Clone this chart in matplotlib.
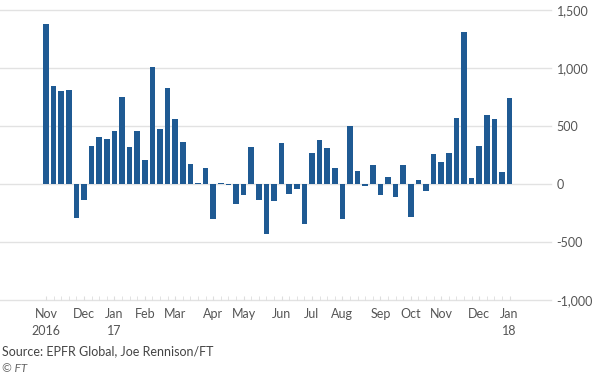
import matplotlib
matplotlib.use("Agg")
import matplotlib.pyplot as plt
import numpy as np
import pandas as pd

# Weekly flows, Nov 2016 - Jan 2018
weeks = pd.date_range("2016-11-02", periods=62, freq="7D")
flows = [1377, 848, 799, 813, -296, -138, 325, 402, 388, 457,
         747, 319, 460, 204, 1006, 470, 825, 557, 365, 170,
         12, 135, -305, 10, -5, -172, -95, 320, -140, -430,
         -145, 350, -86, -46, -345, 265, 380, 307, 135, -300,
         500, 112, -15, 161, -98, 63, -112, 164, -284, 32,
         -62, 256, 193, 266, 566, 1308, 55, 330, 595, 563,
         100, 744]
month_labels = ["Nov\n2016", "Dec", "Jan\n17", "Feb", "Mar", "Apr", "May", "Jun",
                "Jul", "Aug", "Sep", "Oct", "Nov", "Dec", "Jan\n18"]
y_ticks = [-1000, -500, 0, 500, 1000, 1500]
y_tick_labels = ["-1,000", "-500", "0", "500", "1,000", "1,500"]
source = "Source: EPFR Global, Joe Rennison/FT"
credit = "© FT"

plt.rcParams['font.family'] = ['Lato', 'DejaVu Sans']
W, H = 592, 375
fig = plt.figure(figsize=(W / 100, H / 100), dpi=100)
ax_left, ax_right = 0, 551
ax_top, ax_bot = 10, 300
ax = fig.add_axes([ax_left / W, 1 - ax_bot / H, (ax_right - ax_left) / W, (ax_bot - ax_top) / H])

x = np.arange(len(flows))
ax.bar(x, flows, width=0.72, color="#1f5a93", zorder=3)

pitch = 7.6
first = 46
ax.set_xlim((ax_left - first) / pitch, (ax_right - first) / pitch)
ax.set_ylim(-1000, 1500)

for yv in y_ticks:
    ax.axhline(yv, color="#e2e2e2", lw=1, zorder=1, clip_on=False)

# month tick positions: first week of each month
month_pos = [i for i in range(len(weeks)) if i == 0 or weeks[i].month != weeks[i - 1].month]
ax.set_xticks(month_pos)
ax.set_xticklabels(month_labels, fontsize=9, color="#555555", linespacing=1.5)
ax.set_xticks(x, minor=True)
ax.tick_params(axis="x", which="both", direction="in", length=3, color="#dddddd", pad=6)

ax.yaxis.tick_right()
ax.set_yticks(y_ticks)
ax.set_yticklabels(y_tick_labels, fontsize=9, color="#555555")
ax.tick_params(axis="y", length=0, pad=4)

for s in ax.spines.values():
    s.set_visible(False)

fig.text(2 / W, 1 - 351 / H, source, fontsize=9, color="#444444", va="center", ha="left")
fig.text(2 / W, 1 - 368 / H, credit, fontsize=8.5, color="#666666", va="center", ha="left", style="italic")

fig.savefig("out.png", dpi=100)
